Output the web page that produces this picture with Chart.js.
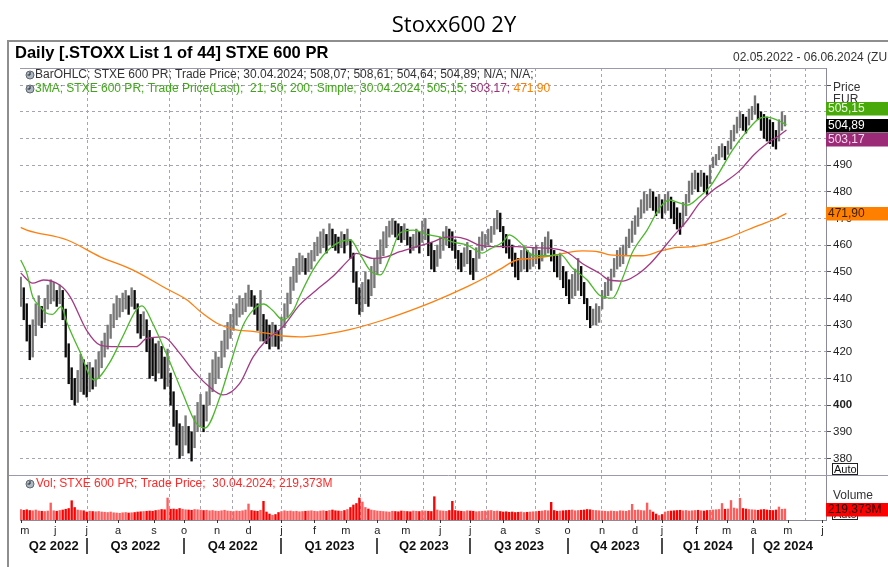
<!DOCTYPE html>
<html>
<head>
<meta charset="utf-8">
<title>Stoxx600 2Y</title>
<script src="https://cdn.jsdelivr.net/npm/chart.js@4.4.1/dist/chart.umd.min.js"></script>
<style>
  html, body { margin: 0; padding: 0; background: #fff; }
  canvas { display: block; }
</style>
</head>
<body>
<canvas id="stoxxChart" width="888" height="567"></canvas>
<script>
// one bar for every second trading day, 02.05.2022 -> 30.04.2024
const barHighs = [
    448, 444, 438, 430, 432, 438, 441, 437, 440, 445,
    447, 446, 443, 445, 443, 436, 423, 414, 410, 413,
    419, 417, 415, 416, 414, 417, 420, 424, 427, 430,
    434, 438, 441, 440, 442, 443, 441, 444, 443, 438,
    434, 435, 432, 428, 425, 423, 424, 422, 418, 421,
    412, 405, 398, 393, 392, 396, 392, 390, 396, 401,
    404, 400, 405, 412, 417, 420, 418, 424, 428, 431,
    434, 436, 438, 441, 440, 442, 445, 443, 441, 438,
    443, 434, 432, 430, 431, 430, 428, 433, 438, 442,
    448, 452, 455, 457, 456, 455, 457, 458, 461, 463,
    465, 466, 464, 468, 466, 464, 463, 465, 464, 466,
    462, 457, 450, 444, 446, 450, 447, 452, 455, 458,
    462, 465, 467, 469, 470, 469, 468, 467, 468, 466,
    463, 464, 466, 465, 469, 470, 466, 461, 458, 460,
    463, 465, 467, 466, 465, 462, 458, 457, 459, 461,
    458, 455, 459, 463, 465, 464, 466, 467, 470, 473,
    472, 467, 464, 462, 460, 457, 455, 458, 459, 458,
    457, 459, 460, 458, 461, 463, 465, 462, 458, 456,
    457, 452, 450, 447, 449, 451, 455, 452, 446, 440,
    437, 436, 438, 437, 443, 446, 448, 451, 455, 458,
    459, 460, 463, 466, 469, 471, 474, 477, 480, 479,
    481, 480, 478, 479, 477, 479, 480, 478, 476, 474,
    472, 476, 479, 484, 487, 488, 487, 488, 487, 486,
    490, 493, 494, 497, 498, 497, 499, 503, 505, 508,
    510, 509, 508, 511, 512, 516, 513, 510, 509, 508,
    507, 506, 503, 507, 510, 508.61
];
const barLows = [
    437, 432, 424, 417, 418, 426, 430, 429, 431, 436,
    438, 439, 437, 438, 432, 418, 408, 402, 400, 401,
    405, 404, 403, 405, 406, 407, 410, 414, 418, 421,
    425, 429, 432, 433, 435, 436, 434, 437, 436, 427,
    425, 426, 420, 410, 411, 409, 412, 410, 406, 407,
    400, 392, 385, 380, 381, 385, 382, 379, 384, 390,
    392, 390, 394, 400, 405, 408, 410, 414, 418, 421,
    425, 428, 430, 433, 434, 435, 437, 437, 434, 428,
    424, 424, 423, 421, 422, 422, 421, 424, 429, 433,
    438, 443, 446, 449, 450, 449, 450, 451, 454, 456,
    457, 459, 457, 460, 459, 458, 457, 459, 457, 460,
    455, 446, 438, 434, 435, 438, 437, 441, 444, 449,
    453, 456, 459, 463, 464, 463, 462, 461, 462, 460,
    457, 458, 459, 457, 461, 462, 456, 451, 450, 452,
    455, 458, 460, 459, 458, 455, 451, 450, 452, 453,
    449, 447, 450, 455, 458, 459, 460, 461, 464, 466,
    465, 459, 457, 455, 452, 448, 447, 450, 451, 450,
    451, 452, 453, 451, 454, 456, 457, 454, 450, 448,
    447, 444, 441, 438, 440, 441, 443, 441, 438, 432,
    429, 430, 430, 431, 436, 440, 441, 443, 448, 451,
    452, 453, 456, 459, 461, 464, 467, 470, 472, 473,
    474, 473, 471, 472, 470, 472, 473, 470, 468, 466,
    464, 467, 471, 476, 479, 481, 480, 482, 480, 479,
    483, 489, 490, 492, 493, 492, 494, 496, 499, 502,
    504, 503, 502, 505, 507, 509, 507, 503, 500, 499,
    498, 497, 496, 499, 503, 504.64
];
// volume in millions
const barVolumes = [
    210, 195, 205, 190, 185, 200, 180, 175, 170, 180, 340, 185, 175, 190, 200, 215,
    230, 386, 250, 200, 190, 185, 160, 175, 170, 165, 170, 160, 155, 150, 160, 145,
    140, 135, 145, 150, 140, 145, 150, 160, 165, 170, 175, 180, 175, 190, 200, 210,
    205, 440, 215, 220, 210, 230, 215, 205, 200, 195, 210, 205, 200, 190, 195, 185,
    190, 180, 175, 185, 195, 180, 175, 170, 180, 175, 185, 200, 320, 190, 180, 175,
    195, 373, 160, 120, 95, 110, 150, 170, 185, 175, 180, 170, 175, 165, 170, 175,
    180, 185, 175, 170, 180, 185, 175, 190, 200, 185, 180, 175, 190, 210, 250, 300,
    330, 440, 360, 250, 220, 200, 190, 180, 175, 170, 165, 160, 175, 170, 165, 180,
    175, 170, 165, 180, 175, 170, 185, 180, 175, 170, 466, 200, 185, 180, 175, 190,
    373, 190, 180, 175, 170, 185, 180, 175, 165, 170, 175, 180, 185, 190, 175, 180,
    170, 160, 165, 155, 160, 150, 155, 160, 150, 155, 160, 165, 170, 175, 180, 190,
    185, 353, 190, 175, 180, 185, 190, 195, 200, 185, 190, 195, 200, 210, 205, 195,
    190, 185, 180, 175, 170, 180, 175, 170, 185, 180, 175, 190, 313, 195, 200, 190,
    185, 340, 200, 160, 120, 90, 110, 160, 175, 180, 185, 190, 195, 185, 190, 180,
    185, 190, 195, 185, 180, 190, 195, 200, 205, 210, 330, 215, 220, 390, 240, 225,
    435, 230, 220, 210, 205, 200, 195, 205, 210, 200, 195, 190, 200, 260, 215, 219.373
];
const barDays = barHighs.map(function (_, i) { return i * 2; });

// moving averages (21 / 50 / 200 days)
const ma21Days = [0, 4, 8, 13, 17, 21, 27, 31, 39, 49, 59, 68, 77, 81, 88, 97, 108, 117, 123, 133,
    140, 148, 155, 162, 168, 175, 182, 186, 195, 204, 213, 220, 226, 233, 240, 246, 253, 262, 271, 280,
    288, 298, 308, 313, 322, 326, 335, 342, 351, 360, 368, 378, 386, 395, 402, 408, 418, 427, 433, 440,
    445, 453, 460, 467, 475, 485, 493, 498, 505, 511];
const ma21Values = [454.4, 449.5, 440.6, 436.9, 434.5, 434, 436.9, 430.7, 420.6, 409.4, 415.6, 425.6, 435.6, 437.2, 430.7, 419.5, 404.5, 393.2, 391.4, 403.1,
    415.6, 429.4, 435.6, 437.9, 435.6, 431.9, 435.6, 440.6, 450.6, 457.5, 461.2, 461.9, 457, 450.6, 448.8, 455, 464.5, 465.6, 464, 463,
    461.2, 460, 457, 458.5, 461.2, 463.8, 460, 456, 456, 456.5, 451.5, 446.9, 441.3, 440.1, 448.1, 457, 465.6, 474.4, 476.9, 475.7,
    475, 478.1, 481.9, 488, 495.6, 503, 507.5, 508, 506.8, 505.15];

const ma50Days = [0, 8, 15, 26, 33, 44, 53, 64, 77, 84, 95, 106, 115, 126, 135, 146, 155, 164, 175, 186,
    197, 208, 220, 224, 235, 244, 253, 264, 275, 284, 291, 298, 306, 320, 331, 342, 353, 364, 375, 386,
    393, 402, 411, 420, 427, 435, 445, 453, 462, 471, 480, 489, 498, 505, 511];
const ma50Values = [449.5, 445.7, 446.9, 445, 440.6, 428, 422.5, 421.9, 421.9, 425, 425.6, 419.5, 413, 406.8, 403.8, 408, 418, 424.4, 429.4, 437.5,
    443, 448.1, 455, 456.9, 455, 455.6, 457.5, 459.4, 461.2, 463, 463, 462, 460, 459.4, 459.4, 459, 458.8, 457.5, 453, 449.5,
    446.9, 446.5, 448.8, 453, 457.5, 463, 469.4, 475.7, 480.6, 484, 488, 493.7, 498.1, 500.6, 503.17];

const ma200Days = [0, 4, 31, 53, 75, 97, 111, 120, 131, 142, 155, 164, 175, 186, 220, 242, 253, 275, 298, 311,
    320, 331, 342, 353, 364, 375, 386, 393, 405, 415, 427, 438, 449, 460, 471, 482, 493, 502, 511];
const ma200Values = [466.6, 465.6, 461.9, 455.6, 450.6, 443.7, 439.4, 435, 430.7, 428.4, 427.6, 427, 425.9, 425.6, 428.4, 431.9, 434, 438.7, 444.4, 448.1,
    451, 454.4, 455, 455.9, 457.1, 457.8, 457.4, 456.3, 456, 456, 457.8, 459.1, 459.4, 460.6, 462.5, 465, 467.5, 469.4, 471.9];

// time axis (trading-day index)
const monthDays = [0, 23, 44, 65, 89, 109, 131, 152, 174, 196, 217, 238, 257, 280, 300, 322, 345, 365, 388, 410, 428, 451, 471, 489, 512, 535];
const monthLabels = ['m', 'j', 'j', 'a', 's', 'o', 'n', 'd', 'j', 'f', 'm', 'a', 'm', 'j', 'j', 'a', 's', 'o', 'n', 'd', 'j', 'f', 'm', 'a', 'm', 'j'];
const gridDays = [0, 89, 109, 131, 152, 196, 257, 280, 300, 322, 365, 410, 451, 471, 489, 512, 535];
const quarterBounds = [0, 44, 109, 174, 238, 300, 365, 428, 489, 535];
const quarterLabels = ['Q2 2022', 'Q3 2022', 'Q4 2022', 'Q1 2023', 'Q2 2023', 'Q3 2023', 'Q4 2023', 'Q1 2024', 'Q2 2024'];
const priceTicks = [380, 390, 400, 410, 420, 430, 440, 450, 460, 470, 480, 490, 500, 510, 520];

const lastClose = 504.89;
const lastMa = [505.15, 503.17, 471.90];
const lastVolume = 219.373;

const FONT = '"Liberation Sans", Arial, sans-serif';
const GRID = '#a4a4b2';

function isUp(i) {
    if (i === 0) return true;
    return barHighs[i] + barLows[i] >= barHighs[i - 1] + barLows[i - 1];
}

function fmt(v, digits) {
    return v.toFixed(digits || 2).replace('.', ',');
}

function drawClockIcon(ctx, x, y) {
    ctx.save();
    ctx.beginPath();
    ctx.arc(x, y, 4, 0, Math.PI * 2);
    ctx.fillStyle = '#aeb8c2';
    ctx.fill();
    ctx.strokeStyle = '#5d6874';
    ctx.lineWidth = 1;
    ctx.stroke();
    ctx.beginPath();
    ctx.moveTo(x, y); ctx.lineTo(x, y - 3);
    ctx.moveTo(x, y); ctx.lineTo(x - 2.5, y);
    ctx.strokeStyle = '#222';
    ctx.stroke();
    ctx.restore();
}

function drawSegments(ctx, x, y, segments) {
    segments.forEach(function (seg) {
        ctx.fillStyle = seg[1];
        ctx.fillText(seg[0], x, y);
        x += ctx.measureText(seg[0]).width;
    });
}

function drawBadge(ctx, y, text, bg, fg) {
    ctx.fillStyle = bg;
    ctx.fillRect(826, Math.round(y - 6.5), 62, 13.5);
    ctx.fillStyle = fg;
    ctx.font = '12px ' + FONT;
    ctx.textAlign = 'left';
    ctx.textBaseline = 'middle';
    ctx.fillText(text, 828, y + 0.5);
}

function drawAutoBox(ctx, y) {
    ctx.fillStyle = '#fff';
    ctx.fillRect(832.5, y, 25, 11);
    ctx.strokeStyle = '#222';
    ctx.lineWidth = 1;
    ctx.strokeRect(832.5, y + 0.5, 25, 11);
    ctx.fillStyle = '#111';
    ctx.font = '11px ' + FONT;
    ctx.textAlign = 'left';
    ctx.textBaseline = 'middle';
    ctx.fillText('Auto', 834, y + 6.5);
}

const frameBackground = {
    id: 'frameBackground',
    beforeDraw: function (chart) {
        const ctx = chart.ctx;
        ctx.save();
        ctx.fillStyle = '#fff';
        ctx.fillRect(0, 0, chart.width, chart.height);
        ctx.restore();
    }
};

const eikonDecor = {
    id: 'eikonDecor',
    afterDraw: function (chart) {
        const ctx = chart.ctx;
        const x = chart.scales.x;
        const y = chart.scales.y;
        const yVol = chart.scales.yVol;
        const area = chart.chartArea;
        ctx.save();

        // title
        ctx.fillStyle = '#000';
        ctx.font = '22px "Open Sans", ' + FONT;
        ctx.textAlign = 'center';
        ctx.textBaseline = 'middle';
        ctx.fillText('Stoxx600 2Y', 454, 26);

        // outer frame
        ctx.strokeStyle = '#8e8e8e';
        ctx.lineWidth = 2;
        ctx.beginPath();
        ctx.moveTo(8, 567); ctx.lineTo(8, 41); ctx.lineTo(888, 41);
        ctx.stroke();
        ctx.lineWidth = 1;
        ctx.strokeStyle = '#9a9aa8';
        ctx.beginPath();
        ctx.moveTo(area.left, area.top + 0.5); ctx.lineTo(area.right, area.top + 0.5);
        ctx.moveTo(9, 475.5); ctx.lineTo(888, 475.5);
        ctx.stroke();

        // header
        ctx.textAlign = 'left';
        ctx.fillStyle = '#000';
        ctx.font = 'bold 16.5px ' + FONT;
        ctx.fillText('Daily [.STOXX List 1 of 44] STXE 600 PR', 15, 53);
        ctx.font = '12px ' + FONT;
        ctx.fillStyle = '#333';
        ctx.fillText('02.05.2022 - 06.06.2024 (ZURICH)', 733, 58);

        // legends
        ctx.font = '12px ' + FONT;
        drawClockIcon(ctx, 30, 75);
        drawSegments(ctx, 35, 75, [
            ['BarOHLC; STXE 600 PR; Trade Price; 30.04.2024; 508,07; 508,61; 504,64; 504,89; N/A; N/A;', '#333']
        ]);
        drawClockIcon(ctx, 30, 89);
        drawSegments(ctx, 35, 89, [
            ['3MA; STXE 600 PR; Trade Price(Last);  21; 50; 200; Simple; 30.04.2024; ' + fmt(lastMa[0]) + '; ', '#3fa617'],
            [fmt(lastMa[1]) + '; ', '#a0307a'],
            [fmt(lastMa[2]), '#ff7f00']
        ]);
        drawClockIcon(ctx, 30, 484);
        drawSegments(ctx, 36, 484, [
            ['Vol; STXE 600 PR; Trade Price;  30.04.2024; ' + fmt(lastVolume, 3) + 'M', '#ff2a2a']
        ]);

        // time axis
        ctx.strokeStyle = '#333';
        ctx.beginPath();
        monthDays.forEach(function (d) {
            const px = Math.round(x.getPixelForValue(d)) + 0.5;
            ctx.moveTo(px, area.bottom); ctx.lineTo(px, area.bottom + 3);
        });
        ctx.stroke();
        ctx.fillStyle = '#222';
        ctx.font = '11px ' + FONT;
        ctx.textAlign = 'center';
        monthDays.forEach(function (d, i) {
            const px = x.getPixelForValue(d) + (i === 0 ? 4 : 0);
            ctx.fillText(monthLabels[i], px, 531);
        });
        ctx.font = 'bold 13px ' + FONT;
        ctx.fillStyle = '#111';
        quarterLabels.forEach(function (label, i) {
            const mid = (x.getPixelForValue(quarterBounds[i]) + x.getPixelForValue(quarterBounds[i + 1])) / 2;
            ctx.fillText(label, mid, 546);
        });
        ctx.strokeStyle = '#111';
        ctx.lineWidth = 1.5;
        ctx.beginPath();
        quarterBounds.slice(1, -1).forEach(function (d) {
            const px = Math.round(x.getPixelForValue(d));
            ctx.moveTo(px, 538); ctx.lineTo(px, 554);
        });
        ctx.stroke();

        // right panel labels and value badges
        ctx.textAlign = 'left';
        ctx.font = '12px ' + FONT;
        ctx.fillStyle = '#333';
        ctx.fillText('EUR', 833, 100);
        ctx.fillText('Price', 833, 88);
        const closeY = y.getPixelForValue(lastClose);
        drawBadge(ctx, closeY - 17, fmt(lastMa[0]), '#49a90a', '#e9ffe0');
        drawBadge(ctx, closeY, fmt(lastClose), '#000', '#fff');
        drawBadge(ctx, closeY + 14, fmt(lastMa[1]), '#9b2b77', '#f8d8ee');
        drawBadge(ctx, y.getPixelForValue(lastMa[2]), fmt(lastMa[2]), '#ff8000', '#3a1c00');
        drawAutoBox(ctx, 463);
        drawAutoBox(ctx, 508);
        ctx.font = '12px ' + FONT;
        ctx.fillStyle = '#333';
        ctx.fillText('Volume', 833, 496);
        drawBadge(ctx, yVol.getPixelForValue(lastVolume), fmt(lastVolume, 3) + 'M', '#ff0000', '#200000');

        ctx.restore();
    }
};

function buildChart() {
    const canvas = document.getElementById('stoxxChart');
    if (!canvas || typeof Chart === 'undefined') return null;

    const lineDefaults = { type: 'line', yAxisID: 'y', pointRadius: 0, borderWidth: 1.3, cubicInterpolationMode: 'monotone', fill: false, order: 0 };

    return new Chart(canvas.getContext('2d'), {
        type: 'bar',
        data: {
            datasets: [
                Object.assign({}, lineDefaults, {
                    label: 'MA 21',
                    data: ma21Days.map(function (d, i) { return { x: d, y: ma21Values[i] }; }),
                    borderColor: '#4cb82a',
                }),
                Object.assign({}, lineDefaults, {
                    label: 'MA 50',
                    data: ma50Days.map(function (d, i) { return { x: d, y: ma50Values[i] }; }),
                    borderColor: '#a23a84',
                }),
                Object.assign({}, lineDefaults, {
                    label: 'MA 200',
                    data: ma200Days.map(function (d, i) { return { x: d, y: ma200Values[i] }; }),
                    borderColor: '#ff7f0e',
                }),
                {
                    label: 'STXE 600 PR',
                    yAxisID: 'y',
                    data: barDays.map(function (d, i) { return { x: d, y: [barLows[i], barHighs[i]] }; }),
                    backgroundColor: function (c) { return isUp(c.dataIndex) ? '#777' : '#0a0a0a'; },
                    barThickness: 1.7,
                    grouped: false,
                    order: 1,
                },
                {
                    label: 'Volume',
                    yAxisID: 'yVol',
                    data: barDays.map(function (d, i) { return { x: d, y: barVolumes[i] }; }),
                    backgroundColor: function (c) { return isUp(c.dataIndex) ? '#ff5c5c' : '#ff0000'; },
                    barThickness: 1.7,
                    grouped: false,
                    order: 1,
                },
            ],
        },
        options: {
            responsive: false,
            animation: false,
            devicePixelRatio: 1,
            layout: { padding: { left: 20, top: 68, right: 0, bottom: 47 } },
            plugins: { legend: { display: false }, tooltip: { enabled: false } },
            scales: {
                x: {
                    type: 'linear',
                    min: -0.5,
                    max: 537.4,
                    offset: false,
                    ticks: { display: false },
                    grid: { color: GRID, drawTicks: false },
                    border: { display: true, color: '#8a8a98', dash: [3, 3] },
                    afterBuildTicks: function (s) { s.ticks = gridDays.map(function (v) { return { value: v }; }); },
                    afterFit: function (s) { s.height = 0; },
                },
                y: {
                    type: 'linear',
                    position: 'right',
                    min: 356.9,
                    max: 526.4,
                    afterBuildTicks: function (s) { s.ticks = priceTicks.map(function (v) { return { value: v }; }); },
                    afterFit: function (s) { s.width = 62; },
                    grid: { color: GRID, tickLength: 5, tickColor: '#555', tickBorderDash: [] },
                    border: { display: true, color: '#8a8a98', dash: [3, 3] },
                    ticks: {
                        padding: 2,
                        color: '#222',
                        font: function (c) {
                            return { family: FONT, size: 11.5, weight: c.tick && c.tick.value === 400 ? 'bold' : 'normal' };
                        },
                        callback: function (v) { return v === 520 ? '' : String(v); },
                    },
                },
                yVol: {
                    type: 'linear',
                    position: 'right',
                    display: false,
                    min: 0,
                    max: 9040,
                },
            },
        },
        plugins: [frameBackground, eikonDecor],
    });
}

buildChart();
</script>
</body>
</html>
